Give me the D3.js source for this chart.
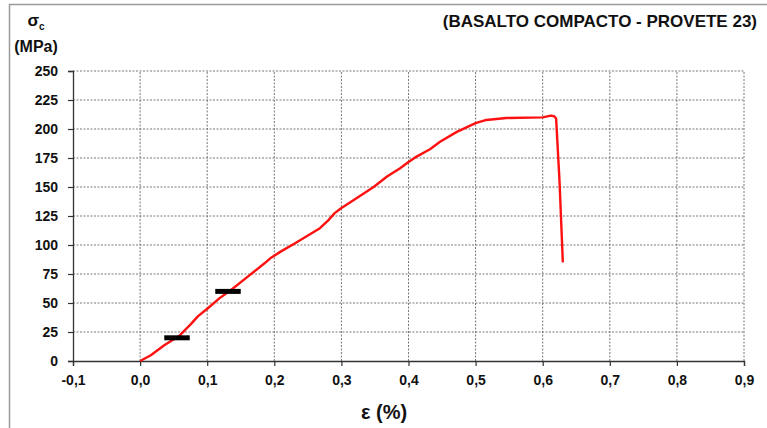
<!DOCTYPE html>
<html>
<head>
<meta charset="utf-8">
<script src="https://cdn.jsdelivr.net/npm/d3@7"></script>
<style>
  body { margin: 0; background: #fff; }
  svg { display: block; font-family: "Liberation Sans", Arial, sans-serif; }
</style>
</head>
<body>
<div id="chart"></div>
<script>
var width = 767, height = 428;

// strain (%) / stress (MPa)
var strain = [0, 0.016, 0.036, 0.058, 0.076, 0.086, 0.101, 0.118, 0.135, 0.160, 0.185, 0.194, 0.210,
  0.231, 0.255, 0.268, 0.280, 0.290, 0.299, 0.323, 0.348, 0.368, 0.387, 0.400, 0.410, 0.432, 0.447, 0.472,
  0.500, 0.516, 0.546, 0.600, 0.612, 0.617, 0.620, 0.625, 0.630];
var stress = [0, 5, 13.5, 21.5, 32, 38.5, 45.5, 54, 61, 72.5, 84, 88.5, 94.5,
  101.5, 110, 114.5, 121, 127.5, 131.5, 140.5, 150, 159, 166, 171.5, 175.5, 182.5, 189, 197.5,
  205, 207.8, 209.5, 210, 211.5, 211, 209, 156, 85];

// black reference bars
var markX0 = [0.036, 0.112];
var markX1 = [0.074, 0.150];
var markY = [20, 60];

var xTicks = [-0.1, 0, 0.1, 0.2, 0.3, 0.4, 0.5, 0.6, 0.7, 0.8, 0.9];
var xTickLabels = ["-0,1", "0,0", "0,1", "0,2", "0,3", "0,4", "0,5", "0,6", "0,7", "0,8", "0,9"];
var yTicks = [0, 25, 50, 75, 100, 125, 150, 175, 200, 225, 250];

var svg = d3.select("#chart")
  .append("svg")
    .attr("width", width)
    .attr("height", height);

// outer frame
svg.append("rect")
  .attr("x", 9.5).attr("y", 4.5)
  .attr("width", 800).attr("height", 500)
  .attr("fill", "none")
  .attr("stroke", "#9a9a9a")
  .attr("stroke-width", 1.5);

var x = d3.scaleLinear().domain([-0.1, 0.9]).range([73, 744]);
var y = d3.scaleLinear().domain([0, 250]).range([361, 71]);

// grid
svg.append("g")
  .selectAll("line")
  .data(xTicks.slice(1))
  .enter()
  .append("line")
    .attr("x1", function(d){ return x(d); })
    .attr("x2", function(d){ return x(d); })
    .attr("y1", y(0)).attr("y2", y(250))
    .attr("stroke", "#555")
    .attr("stroke-width", 0.8)
    .attr("stroke-dasharray", "2,1.5");
svg.append("g")
  .selectAll("line")
  .data(yTicks.slice(1))
  .enter()
  .append("line")
    .attr("x1", x(-0.1)).attr("x2", x(0.9))
    .attr("y1", function(d){ return y(d); })
    .attr("y2", function(d){ return y(d); })
    .attr("stroke", "#555")
    .attr("stroke-width", 0.8)
    .attr("stroke-dasharray", "2,1.5");

//X-axis
var xAxis = svg.append("g")
  .attr("transform", "translate(0," + y(0) + ")")
  .call(d3.axisBottom(x).tickValues(xTicks).tickSize(5).tickPadding(9)
    .tickFormat(function(d, i){ return xTickLabels[i]; }));
//Y-axis
var yAxis = svg.append("g")
  .attr("transform", "translate(" + x(-0.1) + ",0)")
  .call(d3.axisLeft(y).tickValues(yTicks).tickSize(5).tickPadding(10));

[xAxis, yAxis].forEach(function(a) {
  a.select(".domain").attr("stroke", "#333").attr("stroke-width", 1.3);
  a.selectAll(".tick line").attr("stroke", "#333").attr("stroke-width", 1.2);
  a.selectAll("text")
    .style("font-family", "'Liberation Sans', Arial, sans-serif")
    .style("font-size", "14px")
    .style("font-weight", "bold")
    .attr("fill", "#111");
});

// curve
var line = d3.line()
  .x(function(d){ return x(d[0]); })
  .y(function(d){ return y(d[1]); });
svg.append("path")
  .datum(d3.zip(strain, stress))
  .attr("d", line)
  .attr("fill", "none")
  .attr("stroke", "#ff1010")
  .attr("stroke-width", 2.4)
  .attr("stroke-linejoin", "round");

// markers
svg.append("g")
  .selectAll("line")
  .data(markY)
  .enter()
  .append("line")
    .attr("x1", function(d, i){ return x(markX0[i]); })
    .attr("x2", function(d, i){ return x(markX1[i]); })
    .attr("y1", function(d){ return y(d); })
    .attr("y2", function(d){ return y(d); })
    .attr("stroke", "#000")
    .attr("stroke-width", 5);

// titles
svg.append("text")
  .attr("text-anchor", "end")
  .attr("x", 757).attr("y", 27)
  .style("font-size", "17px")
  .style("font-weight", "bold")
  .attr("fill", "#111")
  .text("(BASALTO COMPACTO - PROVETE 23)");

var sig = svg.append("text")
  .attr("text-anchor", "middle")
  .attr("x", 36).attr("y", 26)
  .style("font-size", "17px")
  .style("font-weight", "bold")
  .attr("fill", "#111");
sig.append("tspan").text("σ");
sig.append("tspan").attr("dy", 4).style("font-size", "10px").text("c");

svg.append("text")
  .attr("text-anchor", "middle")
  .attr("x", 36).attr("y", 52)
  .style("font-size", "16px")
  .style("font-weight", "bold")
  .attr("fill", "#111")
  .text("(MPa)");

svg.append("text")
  .attr("text-anchor", "middle")
  .attr("x", 384).attr("y", 419)
  .style("font-size", "20px")
  .style("font-weight", "bold")
  .attr("fill", "#111")
  .text("ε (%)");
</script>
</body>
</html>
